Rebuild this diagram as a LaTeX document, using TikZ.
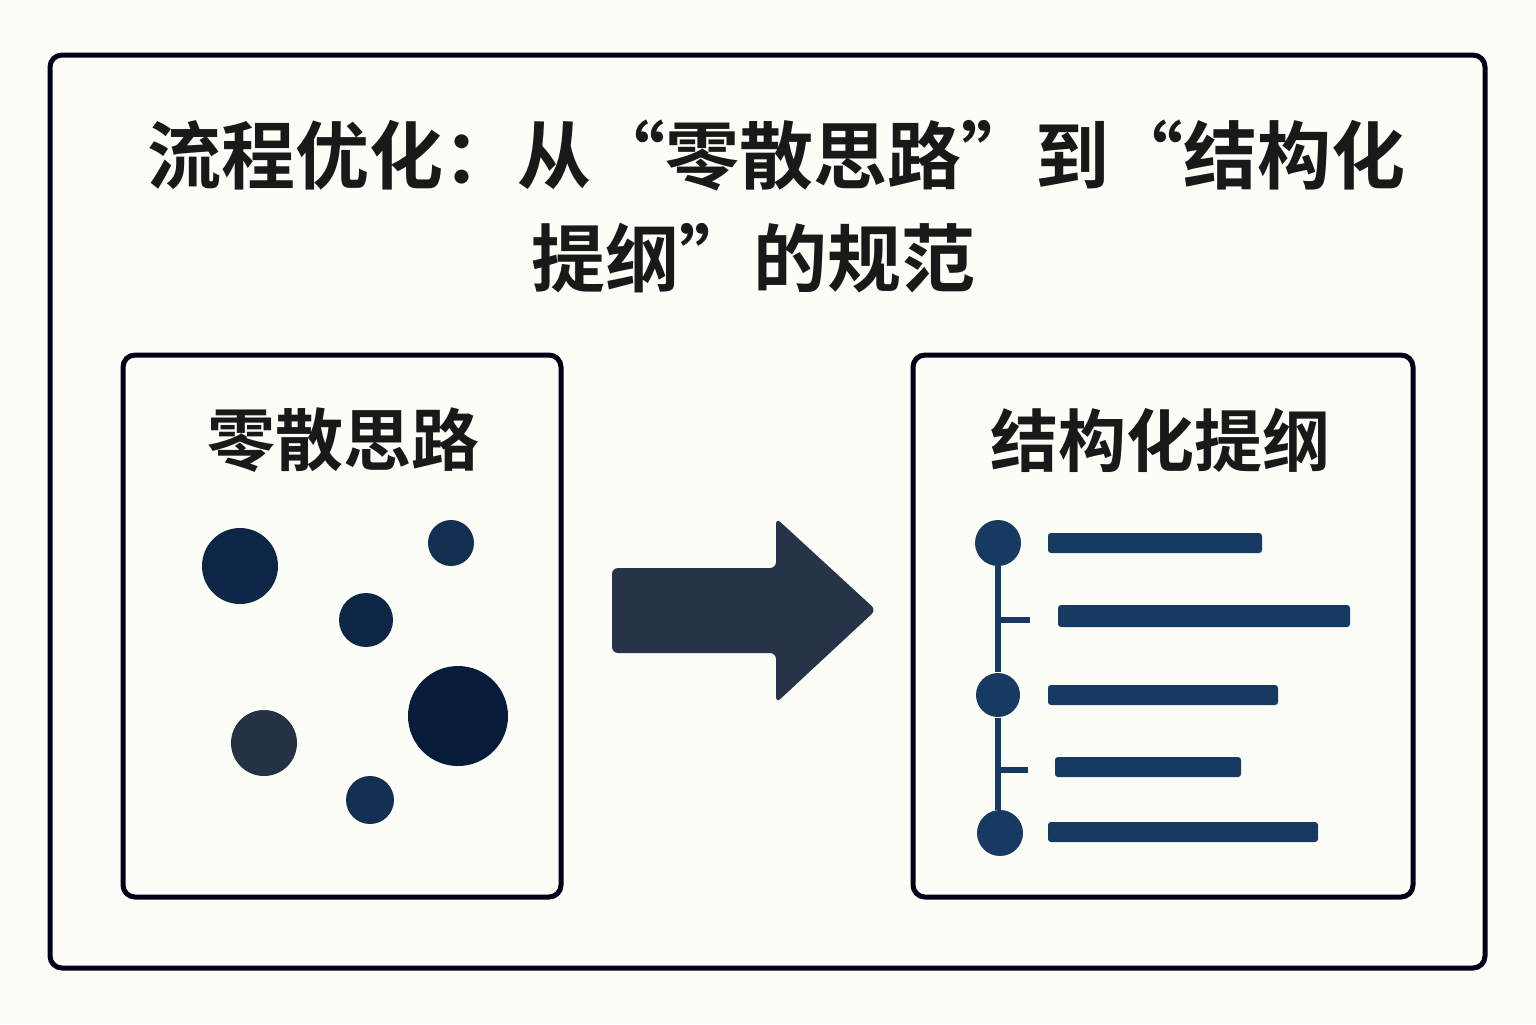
\documentclass[tikz,border=0pt]{standalone}
\usepackage{fontspec}
\newfontfamily\cjk{Noto Sans CJK SC Bold}
\begin{document}
\begin{tikzpicture}[x=0.5pt,y=-0.5pt,
  frame/.style={draw=black!90!blue,line width=2.5pt,rounded corners=6pt},
  dot/.style={fill=#1},
  bar/.style={fill=navy,rounded corners=1.5pt},
  ttl/.style={font=\cjk\fontsize{37}{46}\selectfont,text=black!90},
  btl/.style={font=\cjk\fontsize{34}{40}\selectfont,text=black!90}]
\definecolor{navy}{HTML}{173A63}
\definecolor{cA}{HTML}{0D2646}
\definecolor{cB}{HTML}{132F52}
\definecolor{cC}{HTML}{061C3A}
\definecolor{cD}{HTML}{243244}
\definecolor{arr}{HTML}{263348}
\definecolor{bg}{HTML}{FDFDF8}
\fill[bg] (0,0) rectangle (1536,1024);
\useasboundingbox (0,0) rectangle (1536,1024);
\draw[frame] (50,55) rectangle (1485,968);
\node[ttl] (t1) at (776,155) {流程优化：从“零散思路”到“结构化};
\node[ttl,anchor=west] (t2) at (524,258) {提纲”的规范};
\draw[frame] (123,355) rectangle (561,897);
\node[btl] (lt) at (343,440) {零散思路};
\fill[dot=cA] (240,566) circle (38);
\fill[dot=cB] (451,543) circle (23);
\fill[dot=cA] (366,620) circle (27);
\fill[dot=cC] (458,716) circle (50);
\fill[dot=cD] (264,743) circle (33);
\fill[dot=cB] (370,800) circle (24);
\fill[fill=arr, rounded corners=3pt] (612,568) -- (776,568) -- (776,518) -- (876,610) -- (776,703) -- (776,653) -- (612,653) -- cycle;
\draw[frame] (913,355) rectangle (1413,897);
\node[btl] (rt) at (1160,440) {结构化提纲};
\fill[navy] (998,543) circle (23) (998,695) circle (22) (1000,833) circle (23);
\draw[navy,line width=3pt] (998,566) -- (998,672) (998,620) -- (1030,620) (998,718) -- (998,810) (998,770) -- (1028,770);
\fill[bar] (1048,533) rectangle (1262,553);
\fill[bar] (1058,605) rectangle (1350,627);
\fill[bar] (1048,685) rectangle (1278,705);
\fill[bar] (1055,757) rectangle (1241,777);
\fill[bar] (1048,822) rectangle (1318,842);
\end{tikzpicture}
\end{document}
